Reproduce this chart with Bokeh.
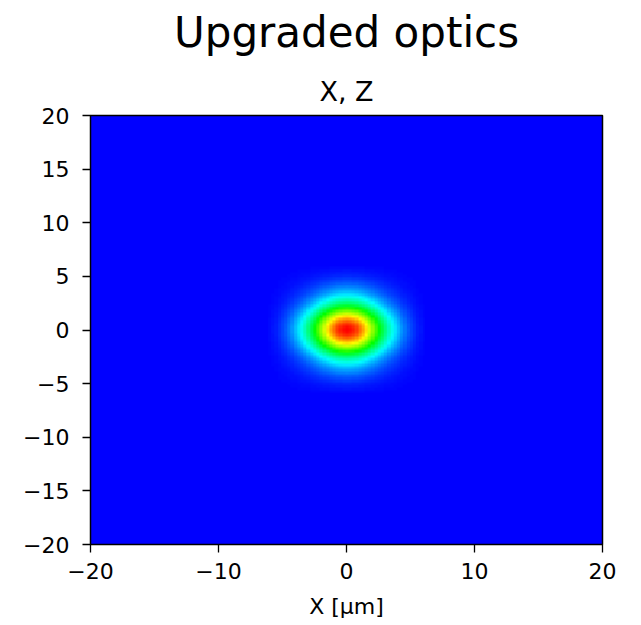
import numpy as np
from bokeh.plotting import figure
from bokeh.models import LinearColorMapper, Title, FixedTicker
from bokeh.embed import file_html
from bokeh.resources import INLINE

# ---- data ----
# bin centres (um), 0.25 um bins around the beam
x_centres = [round(-6.0 + 0.25 * i, 2) for i in range(49)]
z_centres = [round(-6.0 + 0.25 * i, 2) for i in range(49)]

# relative intensity profile along X (z = 0)
x_profile = [0.01, 0.02, 0.03, 0.05, 0.07, 0.09, 0.12, 0.15, 0.19, 0.23,
             0.27, 0.32, 0.38, 0.44, 0.50, 0.57, 0.64, 0.71, 0.78, 0.84,
             0.89, 0.94, 0.97, 0.99, 1.00, 0.99, 0.97, 0.94, 0.89, 0.84,
             0.78, 0.71, 0.64, 0.57, 0.50, 0.44, 0.38, 0.32, 0.27, 0.23,
             0.19, 0.15, 0.12, 0.09, 0.07, 0.05, 0.03, 0.02, 0.01]
# relative intensity profile along Z (x = 0)
z_profile = [0.00, 0.01, 0.02, 0.03, 0.04, 0.06, 0.08, 0.10, 0.13, 0.16,
             0.19, 0.23, 0.28, 0.33, 0.39, 0.46, 0.54, 0.62, 0.70, 0.78,
             0.85, 0.91, 0.96, 0.99, 1.00, 0.99, 0.96, 0.91, 0.85, 0.78,
             0.70, 0.62, 0.54, 0.46, 0.39, 0.33, 0.28, 0.23, 0.19, 0.16,
             0.13, 0.10, 0.08, 0.06, 0.04, 0.03, 0.02, 0.01, 0.00]

x_ticks = [-20, -10, 0, 10, 20]
y_ticks = [-20, -15, -10, -5, 0, 5, 10, 15, 20]
suptitle = "Upgraded optics"
subtitle = "X, Z"
x_label = "X [μm]"

# ---- palette blue -> cyan -> green -> yellow -> red ----
stops = [(0, 0, 255), (0, 255, 255), (0, 255, 0), (255, 255, 0), (255, 0, 0)]
palette = []
n = 256
for i in range(n):
    t = i / (n - 1) * (len(stops) - 1)
    k = min(int(t), len(stops) - 2)
    f = t - k
    c = [round(stops[k][j] + (stops[k + 1][j] - stops[k][j]) * f) for j in range(3)]
    palette.append("#%02x%02x%02x" % tuple(c))

mapper = LinearColorMapper(palette=palette, low=0.0, high=1.0)

img = np.outer(np.array(z_profile), np.array(x_profile))
dx = x_centres[1] - x_centres[0]
dz = z_centres[1] - z_centres[0]

p = figure(width=641, height=625, x_range=(-20, 20), y_range=(-20, 20),
           output_backend="svg", toolbar_location=None,
           min_border_left=90, min_border_right=39,
           min_border_top=115, min_border_bottom=81)
p.background_fill_color = "#0000ff"
p.border_fill_color = "white"
p.grid.visible = False
p.outline_line_color = "black"
p.outline_line_width = 1.5

p.image(image=[img], x=x_centres[0] - dx / 2, y=z_centres[0] - dz / 2,
        dw=dx * len(x_centres), dh=dz * len(z_centres), color_mapper=mapper)

def minus(v):
    return str(v).replace("-", "\u2212")

for ax, ticks in ((p.xaxis, x_ticks), (p.yaxis, y_ticks)):
    ax.ticker = FixedTicker(ticks=ticks)
    ax.major_label_overrides = {t: minus(t) for t in ticks}
    ax.minor_tick_line_color = None
    ax.major_tick_in = 0
    ax.major_tick_out = 8
    ax.major_tick_line_width = 1.3
    ax.major_tick_line_color = "black"
    ax.axis_line_color = None
    ax.major_label_text_font = "DejaVu Sans"
    ax.major_label_text_font_size = "22px"
    ax.major_label_text_color = "black"
p.xaxis.major_label_standoff = 10
p.yaxis.major_label_standoff = 13

p.xaxis.axis_label = x_label
p.xaxis.axis_label_text_font = "DejaVu Sans"
p.xaxis.axis_label_text_font_size = "22px"
p.xaxis.axis_label_text_font_style = "normal"
p.xaxis.axis_label_text_color = "black"
p.xaxis.axis_label_standoff = 12

# far title (figure title) = suptitle
p.title.text = suptitle
p.title.align = "center"
p.title.vertical_align = "top"
p.title.text_font = "DejaVu Sans"
p.title.text_font_size = "42px"
p.title.text_font_style = "normal"
p.title.text_color = "black"
p.title.standoff = 13

# near title = subplot title
p.add_layout(Title(text=subtitle, align="center", text_font="DejaVu Sans",
                   text_font_size="27px", text_font_style="normal",
                   text_color="black", standoff=17), "above")

open("out.html", "w").write(file_html(p, INLINE))
